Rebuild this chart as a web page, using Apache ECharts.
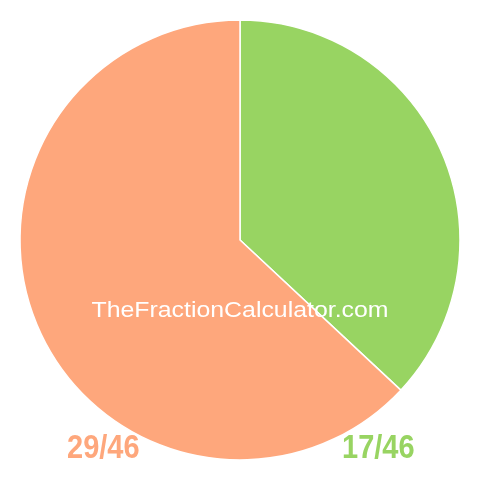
<!DOCTYPE html>
<html>
<head>
<meta charset="utf-8">
<script src="https://cdn.jsdelivr.net/npm/echarts@6/dist/echarts.min.js"></script>
<style>
html, body { margin: 0; padding: 0; background: #fff; }
#main { width: 480px; height: 480px; }
</style>
</head>
<body>
<div id="main"></div>
<script>
var labels = ['17/46', '29/46'];
var values = [17, 29];
var colors = ['#98d462', '#fea77c'];
var watermark = 'TheFractionCalculator.com';

var myChart = echarts.init(document.getElementById('main'));
var font = 'Liberation Sans, Arial, sans-serif';

myChart.setOption({
    animation: false,
    graphic: [{
        type: 'text',
        x: 67, y: 449,
        scaleY: 1.15,
        z: 10,
        style: { text: labels[1], x: 0, y: 0, fill: colors[1], font: 'bold 29px ' + font, verticalAlign: 'middle' }
    }, {
        type: 'text',
        x: 342, y: 449,
        scaleY: 1.15,
        z: 10,
        style: { text: labels[0], x: 0, y: 0, fill: colors[0], font: 'bold 29px ' + font, verticalAlign: 'middle' }
    }, {
        type: 'text',
        x: 240, y: 311,
        scaleX: 1.13,
        z: 10,
        style: { text: watermark, x: 0, y: 0, fill: '#fff', font: '22px ' + font, align: 'center', verticalAlign: 'middle' }
    }],
    series: [{
        type: 'pie',
        center: [240, 240],
        radius: [0, 220],
        startAngle: 90,
        clockwise: true,
        label: { show: false },
        labelLine: { show: false },
        silent: true,
        itemStyle: { borderColor: '#fff', borderWidth: 1.5 },
        data: labels.map(function (l, i) {
            return { name: l, value: values[i], itemStyle: { color: colors[i] } };
        })
    }]
});
</script>
</body>
</html>
